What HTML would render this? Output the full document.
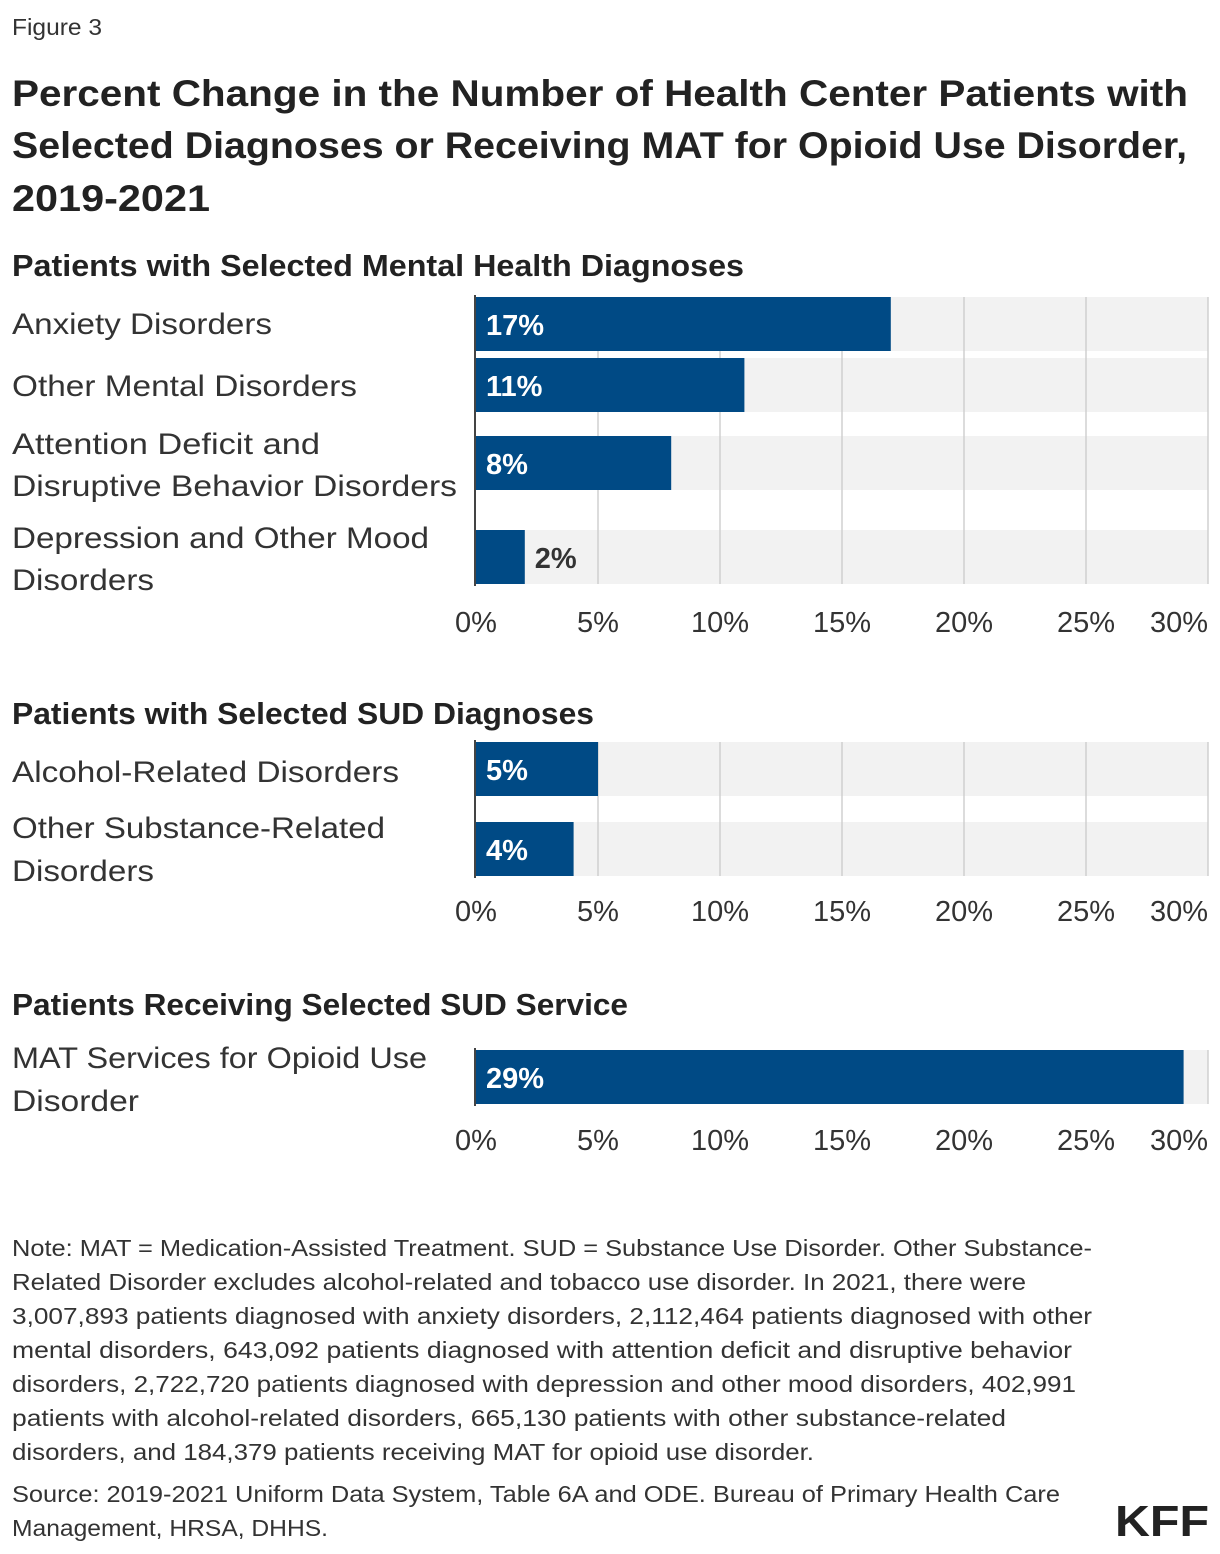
<!DOCTYPE html>
<html><head><meta charset="utf-8"><style>
html,body{margin:0;padding:0;background:#fff}
svg{display:block;font-family:"Liberation Sans",Arial,sans-serif}
</style></head><body>
<svg id="chart" width="1220" height="1554" viewBox="0 0 1220 1554" xmlns="http://www.w3.org/2000/svg">
<text x="12" y="35" font-size="23" fill="#333" textLength="90" lengthAdjust="spacingAndGlyphs">Figure 3</text>
<g font-size="37" font-weight="bold" fill="#222">
<text x="12" y="106" textLength="1176" lengthAdjust="spacingAndGlyphs">Percent Change in the Number of Health Center Patients with</text>
<text x="12" y="158" textLength="1175" lengthAdjust="spacingAndGlyphs">Selected Diagnoses or Receiving MAT for Opioid Use Disorder,</text>
<text x="12" y="211" textLength="198" lengthAdjust="spacingAndGlyphs">2019-2021</text>
</g>
<g id="panels"></g>
<g font-size="23" fill="#333">
<text x="12" y="1256" textLength="1080" lengthAdjust="spacingAndGlyphs">Note: MAT = Medication-Assisted Treatment. SUD = Substance Use Disorder. Other Substance-</text>
<text x="12" y="1290" textLength="1014" lengthAdjust="spacingAndGlyphs">Related Disorder excludes alcohol-related and tobacco use disorder. In 2021, there were</text>
<text x="12" y="1324" textLength="1080" lengthAdjust="spacingAndGlyphs">3,007,893 patients diagnosed with anxiety disorders, 2,112,464 patients diagnosed with other</text>
<text x="12" y="1358" textLength="1060" lengthAdjust="spacingAndGlyphs">mental disorders, 643,092 patients diagnosed with attention deficit and disruptive behavior</text>
<text x="12" y="1392" textLength="1064" lengthAdjust="spacingAndGlyphs">disorders, 2,722,720 patients diagnosed with depression and other mood disorders, 402,991</text>
<text x="12" y="1426" textLength="994" lengthAdjust="spacingAndGlyphs">patients with alcohol-related disorders, 665,130 patients with other substance-related</text>
<text x="12" y="1460" textLength="802" lengthAdjust="spacingAndGlyphs">disorders, and 184,379 patients receiving MAT for opioid use disorder.</text>
</g>
<g font-size="23" fill="#333">
<text x="12" y="1502" textLength="1048" lengthAdjust="spacingAndGlyphs">Source: 2019-2021 Uniform Data System, Table 6A and ODE. Bureau of Primary Health Care</text>
<text x="12" y="1536" textLength="316" lengthAdjust="spacingAndGlyphs">Management, HRSA, DHHS.</text>
</g>
<text x="1115" y="1536" font-size="44" font-weight="bold" fill="#222" textLength="94" lengthAdjust="spacingAndGlyphs">KFF</text>
</svg>
<script>
const panelTitles = ["Patients with Selected Mental Health Diagnoses","Patients with Selected SUD Diagnoses","Patients Receiving Selected SUD Service"];
const mentalCats = [["Anxiety Disorders"],["Other Mental Disorders"],["Attention Deficit and","Disruptive Behavior Disorders"],["Depression and Other Mood","Disorders"]];
const mentalVals = [17,11,8,2];
const sudCats = [["Alcohol-Related Disorders"],["Other Substance-Related","Disorders"]];
const sudVals = [5,4];
const serviceCats = [["MAT Services for Opioid Use","Disorder"]];
const serviceVals = [29];
const ticks = [0,5,10,15,20,25,30];

const NS="http://www.w3.org/2000/svg";
const x0=476, x1=1208, xmax=30;
function xs(v){return x0+(x1-x0)*v/xmax;}
function mk(tag,attrs,parent){const e=document.createElementNS(NS,tag);for(const k in attrs)e.setAttribute(k,attrs[k]);parent.appendChild(e);return e;}
const root=document.getElementById('panels');
const layouts=[
 {title:276,rows:[297,358,436,530],labelY:[[334],[396],[454,496],[548,590]],tick:632},
 {title:724,rows:[742,822],labelY:[[782],[838,881]],tick:921},
 {title:1015,rows:[1050],labelY:[[1068,1111]],tick:1150}
];
const titleW=[732,582,616];
const wide={"Disruptive Behavior Disorders":445,"Anxiety Disorders":260,"Other Mental Disorders":345,"Attention Deficit and":308,"Depression and Other Mood":417,"Disorders":142,"Alcohol-Related Disorders":387,"Other Substance-Related":373,"MAT Services for Opioid Use":415,"Disorder":127};
[[mentalCats,mentalVals],[sudCats,sudVals],[serviceCats,serviceVals]].forEach((pd,pi)=>{
 const L=layouts[pi], cats=pd[0], vals=pd[1], bh=54;
 const g=mk('g',{},root);
 
 
 const t=mk('text',{x:12,y:L.title,'font-size':31,'font-weight':'bold',fill:'#222',textLength:titleW[pi],lengthAdjust:'spacingAndGlyphs'},g);
 
 
 t.textContent=panelTitles[pi];
 const top=L.rows[0], bot=L.rows[L.rows.length-1]+bh;
 L.rows.forEach((y,i)=>{
  const bg=mk('rect',{x:x0,y:y,width:x1-x0,height:bh,fill:'#f2f2f2'},g);
  
  
 });
 ticks.forEach(v=>{
  if(v===0)return;
  const l=mk('line',{x1:xs(v),x2:xs(v),y1:top,y2:bot,stroke:'#d0d0d0','stroke-width':1.5},g);
  
  
 });
 ticks.forEach(v=>{
  const tx=mk('text',{x:v===30?x1:xs(v),y:L.tick,'font-size':29,fill:'#333','text-anchor':v===30?'end':'middle'},g);
  
  
  tx.textContent=v+'%';
 });
 L.rows.forEach((y,i)=>{
  const b=mk('rect',{x:x0,y:y,width:xs(vals[i])-x0,height:bh,fill:'#004a85'},g);
  
  
  const inside=(xs(vals[i])-x0)>70;
  const vl=mk('text',{x:inside?486:xs(vals[i])+10,y:y+38,'font-size':29,'font-weight':'bold',fill:inside?'#fff':'#333'},g);
  
  
  vl.textContent=vals[i]+'%';
  cats[i].forEach((line,j)=>{
   const a={x:12,y:L.labelY[i][j],'font-size':30,fill:'#333'};
   if(wide[line]){a.textLength=wide[line];a.lengthAdjust='spacingAndGlyphs';}
   const cl=mk('text',a,g);
   
   
   cl.textContent=line;
  });
 });
 const ax=mk('line',{x1:x0-1,x2:x0-1,y1:top-2,y2:bot+2,stroke:'#444','stroke-width':2},g);
 
 
});
</script>
</body></html>
